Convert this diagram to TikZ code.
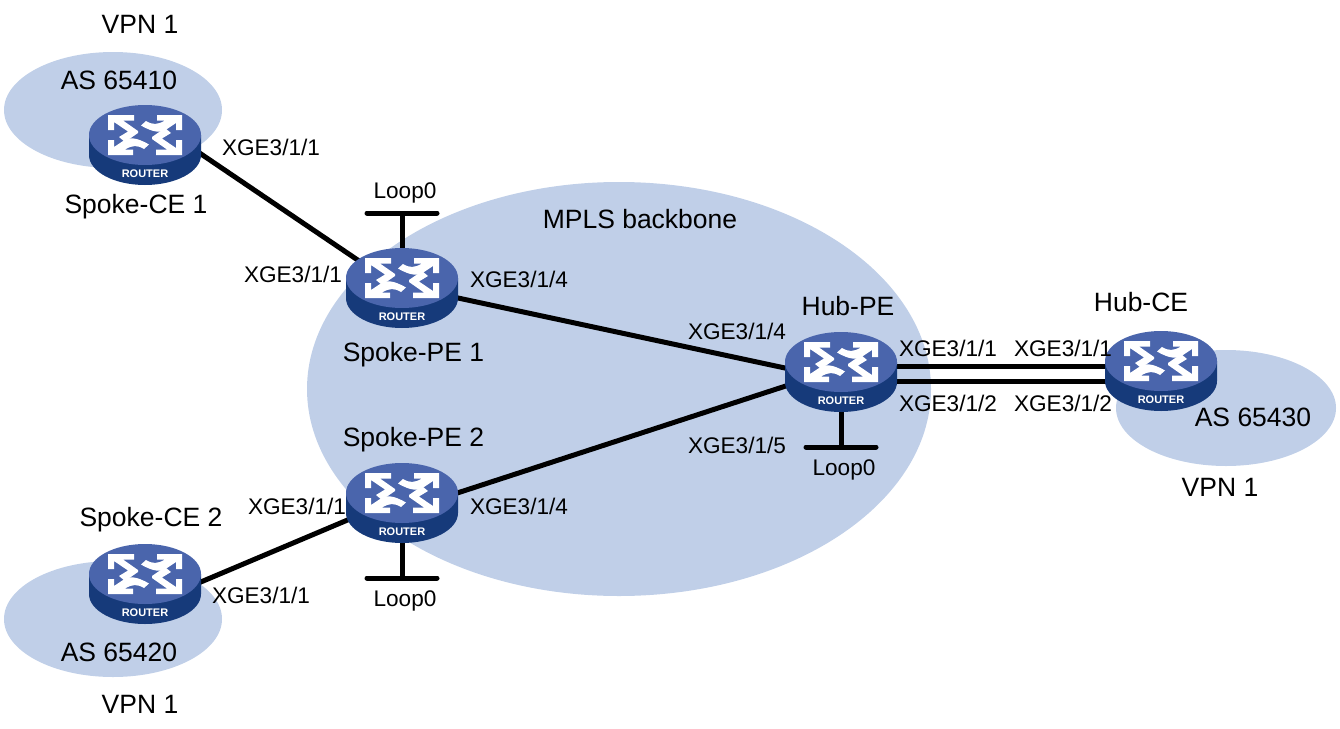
\documentclass[tikz,border=0pt]{standalone}
\usepackage{fontspec}
\setmainfont{Liberation Sans}
\usepackage{tikz}
\usetikzlibrary{shapes.geometric, positioning, backgrounds}
\definecolor{cloudcolor}{RGB}{192, 207, 232}
\definecolor{routertop}{RGB}{74, 101, 172}
\definecolor{routerside}{RGB}{22, 58, 122}

\tikzset{
    router/.pic={
        \fill[routerside] (-56,-10) -- (-56,10) arc[x radius=56, y radius=30, start angle=180, end angle=0] -- (56,-10) -- cycle;
        \fill[routertop] (0,-10) ellipse[x radius=56, y radius=30];
        \foreach \ang in {0,180} {
            \fill[white, rotate around={\ang:(0,-10)}]
                (-37,-30) -- (-11,-30) -- (-11,-24.5) -- (-22,-24.5) -- (-7,-14) -- (-7,-12) -- (-20,-3) -- (-26,-8) -- (-17,-13.5) -- (-31,-23) -- (-31,-15) -- (-37,-15) -- cycle;
            \fill[white, rotate around={\ang:(0,-10)}]
                (37,-30) -- (37,-15) -- (31,-15) -- (31,-22) -- (22,-16) .. controls (16,-12) and (9,-12) .. (-4,-19.5) -- (1,-24) .. controls (8,-20) and (12,-20) .. (20,-24.5) -- (12,-24.5) -- (12,-30) -- cycle;
        }
        \node[font=\fontsize{11}{11}\bfseries, text=white] at (0,29) {ROUTER};
    }
}

\begin{document}
\begin{tikzpicture}[
    x=1pt, y=-1pt,
    cloud/.style={fill=cloudcolor, ellipse, inner sep=0pt},
    port/.style={font=\fontsize{22.6}{27}\selectfont, inner sep=0pt},
    caption/.style={font=\fontsize{26.5}{30}\selectfont, inner sep=0pt},
    anchornode/.style={ellipse, minimum width=112pt, minimum height=70pt, inner sep=0pt},
    link/.style={line width=5pt},
    stub/.style={line width=5pt, line cap=round}
]
    \useasboundingbox (0,0) rectangle (1340,728);

    % Routers
    \node[anchornode] (spokece1) at (145,145) {};
    \node[anchornode] (spokepe1) at (402,288) {};
    \node[anchornode] (spokepe2) at (402,503) {};
    \node[anchornode] (spokece2) at (145,584) {};
    \node[anchornode] (hubpe) at (841,372) {};
    \node[anchornode] (hubce) at (1161,371) {};

    % Loopback ends
    \coordinate (loopa) at (402,213);
    \coordinate (loopal) at (367,213);
    \coordinate (loopar) at (437,213);
    \coordinate (loopb) at (402,578);
    \coordinate (loopbl) at (367,578);
    \coordinate (loopbr) at (437,578);
    \coordinate (loopc) at (841,447);
    \coordinate (loopcl) at (806,447);
    \coordinate (loopcr) at (876,447);

    \begin{scope}[on background layer]
        % Clouds
        \node[cloud, minimum width=218pt, minimum height=116pt] (cloudce1) at (113,110) {};
        \node[cloud, minimum width=218pt, minimum height=116pt] (cloudce2) at (113,619) {};
        \node[cloud, minimum width=220pt, minimum height=116pt] (cloudhub) at (1226,408) {};
        \node[cloud, minimum width=624pt, minimum height=414pt] (backbone) at (619,389) {};

        % Links
        \draw[link] ([shift={(25,-12)}]spokece1.center) -- ([shift={(0,2)}]spokepe1.center);
        \draw[link] ([shift={(25,11)}]spokece2.center) -- ([shift={(0,-6)}]spokepe2.center);
        \draw[link] ([shift={(0,-2)}]spokepe1.center) -- ([shift={(0,8)}]hubpe.center);
        \draw[link] ([shift={(0,8)}]spokepe2.center) -- ([shift={(0,-4)}]hubpe.center);
        \draw[link] ([yshift=6pt]hubpe.center) -- ([yshift=6pt]hubpe.center -| hubce.center);
        \draw[link] ([yshift=-9pt]hubpe.center) -- ([yshift=-9pt]hubpe.center -| hubce.center);

        % Loopbacks
        \draw[link] (spokepe1.center) -- (loopa);
        \draw[stub] (loopal) -- (loopar);
        \draw[link] (spokepe2.center) -- (loopb);
        \draw[stub] (loopbl) -- (loopbr);
        \draw[link] (hubpe.center) -- (loopc);
        \draw[stub] (loopcl) -- (loopcr);
    \end{scope}

    \pic at (spokece1) {router};
    \pic at (spokepe1) {router};
    \pic at (spokepe2) {router};
    \pic at (spokece2) {router};
    \pic at (hubpe) {router};
    \pic at (hubce) {router};

    % Captions
    \node[caption] (vpna) at (140,24) {VPN 1};
    \node[caption] (asa) at (119,80) {AS 65410};
    \node[caption] (cea) at (136,207) {Spoke-CE 1};
    \node[caption] (pea) at (413.5,355) {Spoke-PE 1};
    \node[caption] (peb) at (413.5,440) {Spoke-PE 2};
    \node[caption] (ceb) at (151,520) {Spoke-CE 2};
    \node[caption] (asb) at (119,652) {AS 65420};
    \node[caption] (vpnb) at (140,704) {VPN 1};
    \node[caption] (mpls) at (640,219) {MPLS backbone};
    \node[caption] (hubpelabel) at (848,306) {Hub-PE};
    \node[caption] (hubcelabel) at (1141,302) {Hub-CE};
    \node[caption] (asc) at (1253,417) {AS 65430};
    \node[caption] (vpnc) at (1220,487) {VPN 1};

    % Port labels
    \node[port] at (271,147) {XGE3/1/1};
    \node[port] at (293,274) {XGE3/1/1};
    \node[port] at (519,279) {XGE3/1/4};
    \node[port] at (737,331) {XGE3/1/4};
    \node[port] at (948,348) {XGE3/1/1};
    \node[port] at (1063,348) {XGE3/1/1};
    \node[port] at (948,403) {XGE3/1/2};
    \node[port] at (1063,403) {XGE3/1/2};
    \node[port] at (737,445) {XGE3/1/5};
    \node[port] at (519,506) {XGE3/1/4};
    \node[port] at (297,506) {XGE3/1/1};
    \node[port] at (261,595) {XGE3/1/1};
    \node[port] (loopalabel) at (405,193) {Loop0};
    \node[port] (loopblabel) at (405,601) {Loop0};
    \node[port] (loopclabel) at (844,470) {Loop0};
\end{tikzpicture}
\end{document}
